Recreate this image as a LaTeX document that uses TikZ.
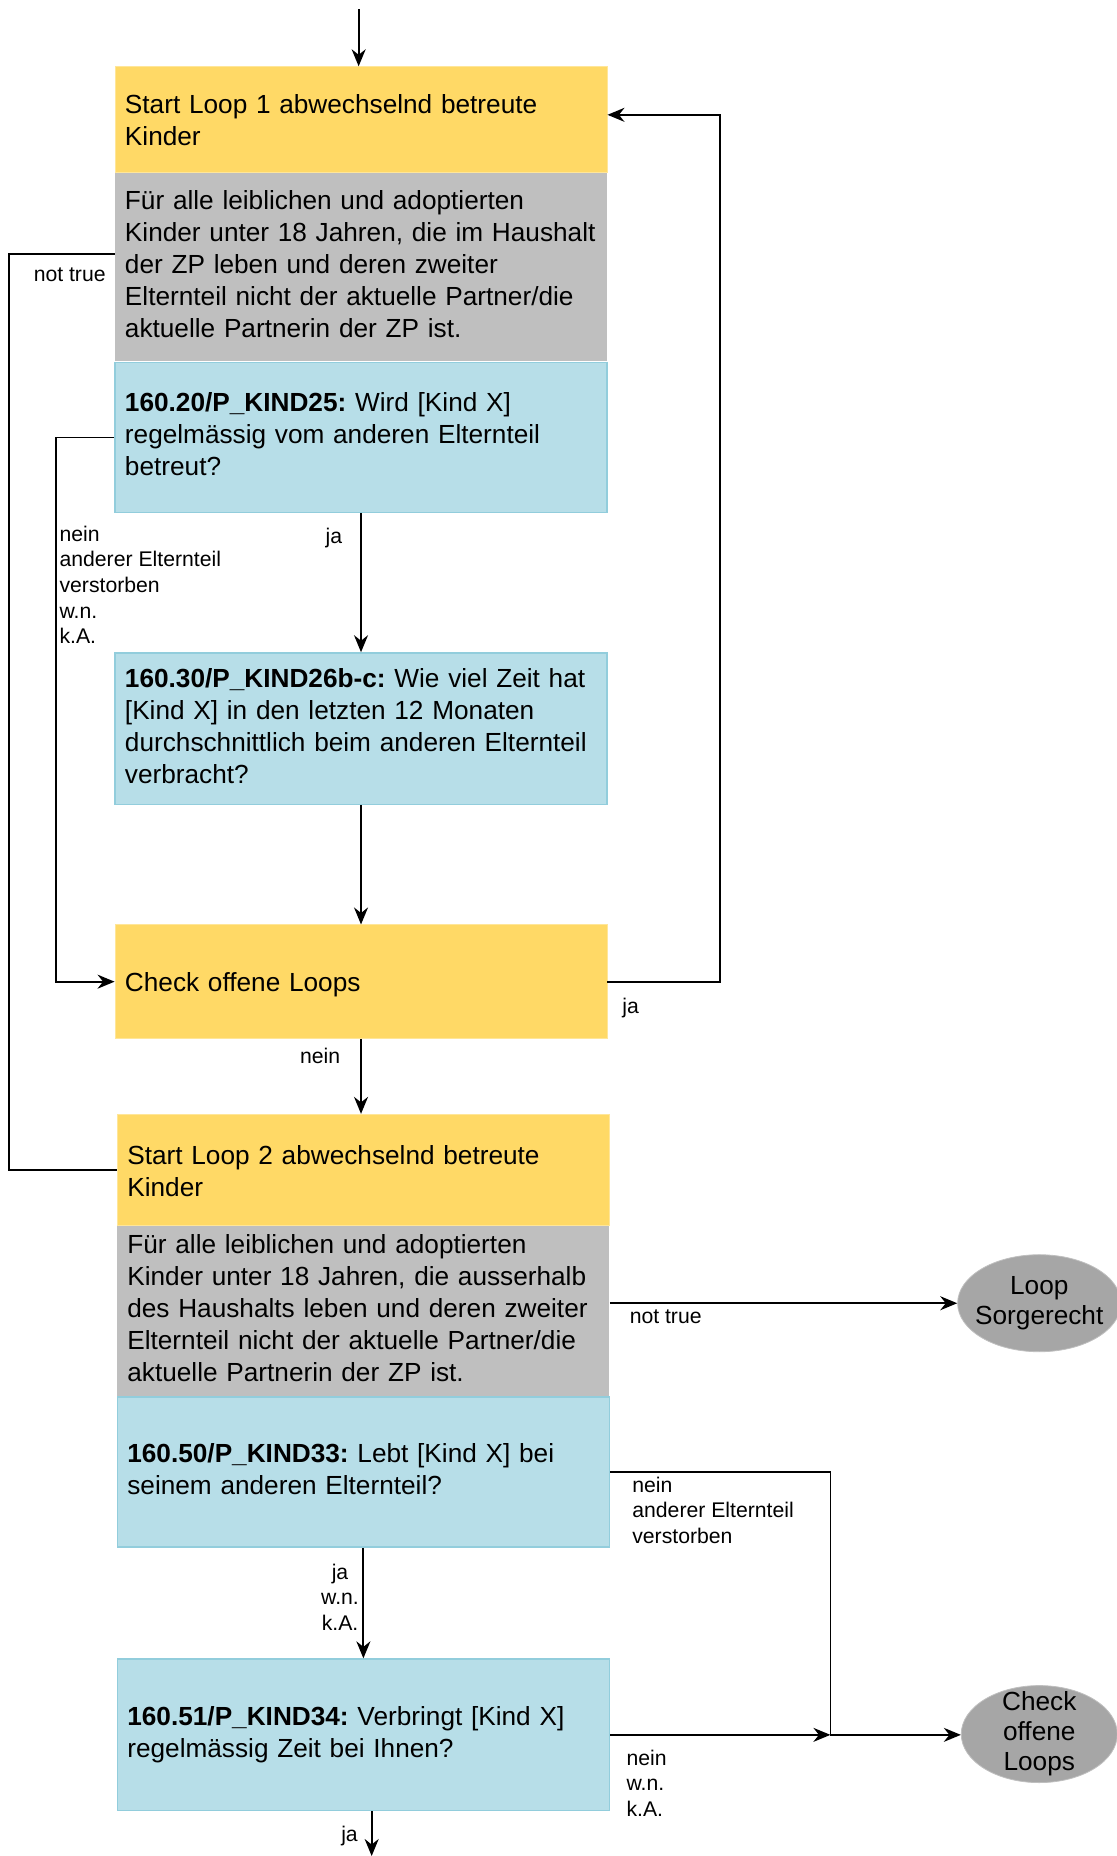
\documentclass[tikz,border=0pt]{standalone}
\usepackage{fontspec}
\setmainfont{Liberation Sans}
\usetikzlibrary{positioning,arrows.meta,shapes.geometric,calc}
\definecolor{loopyellow}{HTML}{FFD966}
\definecolor{loopyellowline}{HTML}{FFE699}
\definecolor{condgray}{HTML}{BFBFBF}
\definecolor{qblue}{HTML}{B7DEE8}
\definecolor{qblueline}{HTML}{92CDDC}
\definecolor{endgray}{HTML}{A6A6A6}
\newcommand{\boxtext}{\fontsize{13.1}{16}\selectfont\frenchspacing}
\newcommand{\lbltext}{\fontsize{10.6}{12.8}\selectfont\frenchspacing}
\tikzset{
  flowbox/.style={rectangle, minimum width=246pt, text width=236pt, inner xsep=5pt,
    inner ysep=0pt, align=left, font=\boxtext,
    execute at begin node=\strut, execute at end node=\strut},
  loopbox/.style={flowbox, fill=loopyellow, draw=loopyellowline,
    execute at begin node={\rule{0pt}{15pt}}},
  condbox/.style={flowbox, fill=condgray},
  questbox/.style={flowbox, fill=qblue, draw=qblueline, line width=0.8pt},
  endnode/.style={ellipse, fill=endgray, draw=condgray, inner xsep=-10pt, inner ysep=-5pt,
    align=center, font=\fontsize{13.1}{15}\selectfont},
  lbl/.style={font=\lbltext, inner sep=0pt, align=left},
  flow/.style={line width=0.9pt, -{Stealth[length=8.5pt,width=7pt]}},
}
\begin{document}
\begin{tikzpicture}[x=0.5917pt,y=-0.5917pt]
\useasboundingbox (0,0) rectangle (943,1568);

\node[loopbox, anchor=north, minimum height=52.7pt] (start1) at (305,56)
  {Start Loop 1 abwechselnd betreute\\Kinder};
\node[condbox, below=0pt of start1, minimum height=94.1pt] (cond1)
  {Für alle leiblichen und adoptierten\\Kinder unter 18 Jahren, die im Haushalt\\der ZP leben und deren zweiter\\Elternteil nicht der aktuelle Partner/die\\aktuelle Partnerin der ZP ist.};
\node[questbox, below=0pt of cond1, minimum height=75.1pt] (kind25)
  {\textbf{160.20/P\_KIND25:} Wird [Kind X]\\regelmässig vom anderen Elternteil\\betreut?};
\node[questbox, anchor=north, minimum height=75.7pt] (kind26) at (305,551)
  {\textbf{160.30/P\_KIND26b-c:} Wie viel Zeit hat\\{}[Kind X] in den letzten 12 Monaten\\durchschnittlich beim anderen Elternteil\\verbracht?};
\node[loopbox, anchor=north, minimum height=56.8pt] (check1) at (305,781)
  {Check offene Loops};

\node[loopbox, anchor=north, minimum height=55.6pt] (start2) at (307,941)
  {Start Loop 2 abwechselnd betreute\\Kinder};
\node[condbox, below=0pt of start2, minimum height=84.6pt] (cond2)
  {Für alle leiblichen und adoptierten\\Kinder unter 18 Jahren, die ausserhalb\\des Haushalts leben und deren zweiter\\Elternteil nicht der aktuelle Partner/die\\aktuelle Partnerin der ZP ist.};
\node[questbox, below=0pt of cond2, minimum height=75.1pt] (kind33)
  {\textbf{160.50/P\_KIND33:} Lebt [Kind X] bei\\seinem anderen Elternteil?};
\node[questbox, anchor=north, minimum height=75.7pt] (kind34) at (307,1401)
  {\textbf{160.51/P\_KIND34:} Verbringt [Kind X]\\regelmässig Zeit bei Ihnen?};

\node[endnode, minimum width=81.6pt, minimum height=48.5pt] (sorge) at (878,1101)
  {Loop\\Sorgerecht};
\node[endnode, minimum width=78pt, minimum height=48.5pt] (check2) at (878,1465)
  {Check\\offene\\Loops};

\coordinate (entry) at (303,8);
\draw[flow] (entry) -- (entry |- start1.north);

\draw[flow] (kind25) -- node[lbl, pos=0.18, left=9pt] (ja25) {ja} (kind26);
\draw[flow] (kind25.west) -- ++(-49,0) |- (check1.west);
\node[lbl, anchor=north west] (nein25) at (50,444)
  {nein\\anderer Elternteil\\verstorben\\w.n.\\k.A.};
\draw[flow] (kind26) -- (check1);
\draw[flow] (check1.east) node[lbl, below right=8pt and 7pt] (ja1) {ja}
  -- ++(95,0) |- (start1.east |- 0,97);
\draw[flow] (check1.south) -- node[lbl, pos=0.23, left=10pt] (nein1) {nein}
  (check1.south |- start2.north);
\draw[line width=0.9pt] (start2.west) -- ++(-91,0) |- ($(cond1.west)+(0,-11)$)
  node[lbl, below left=6.5pt and 4pt] (nottrue1) {not true};

\draw[flow] (sorge.west -| cond2.east) node[lbl, below right=3pt and 9.5pt] (nottrue2) {not true}
  -- (sorge.west);
\coordinate (join) at ($(kind34.east)+(186,0)$);
\draw[line width=0.9pt] (kind33.east) node[lbl, below right=2pt and 10.6pt] (nein33)
  {nein\\anderer Elternteil\\verstorben} -| (join);
\draw[flow] (kind34.east) node[lbl, below right=7pt and 7.7pt] (nein34)
  {nein\\w.n.\\k.A.} -- (join);
\draw[flow] (join) -- (join -| check2.west);
\draw[flow] (kind33.south) node[lbl, align=center, below left=7.5pt and 1.8pt] (ja33)
  {ja\\w.n.\\k.A.} -- (kind34.north);
\coordinate (exit) at (314,1568);
\draw[flow] (kind34.south -| exit) node[lbl, below left=7pt and 6.5pt] (ja34) {ja} -- (exit);
\end{tikzpicture}
\end{document}
